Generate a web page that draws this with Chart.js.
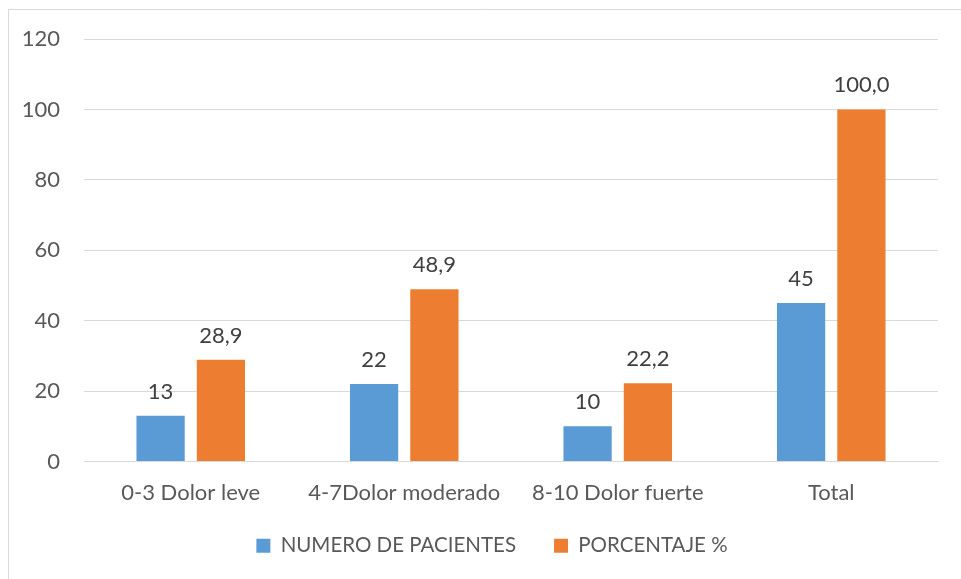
<!DOCTYPE html>
<html>
<head>
<meta charset="utf-8">
<script src="https://cdn.jsdelivr.net/npm/chart.js@4.4.1/dist/chart.umd.min.js"></script>
<style>
  html, body { margin: 0; padding: 0; background: #fff; }
  #wrap { position: relative; width: 961px; height: 579px; }
</style>
</head>
<body>
<div id="wrap"><canvas id="myChart" width="961" height="579"></canvas></div>
<script>
const categories = ["0-3 Dolor leve", "4-7Dolor moderado", "8-10 Dolor fuerte", "Total"];
const pacientes = [13, 22, 10, 45];
const porcentaje = [28.9, 48.9, 22.2, 100.0];
const yTicks = [0, 20, 40, 60, 80, 100, 120];

const FONT = "Lato, 'Liberation Sans', sans-serif";
const TEXT = "#595959";

// frame line on the top and left edges, like the exported chart box
const frame = {
  id: "frame",
  beforeDraw(chart) {
    const ctx = chart.ctx;
    ctx.save();
    ctx.strokeStyle = "#d9d9d9";
    ctx.lineWidth = 1;
    ctx.beginPath();
    ctx.moveTo(8.5, 579);
    ctx.lineTo(8.5, 9.5);
    ctx.lineTo(961, 9.5);
    ctx.stroke();
    ctx.restore();
  }
};

// nudge the legend a bit up and to the right after layout
const legendShift = {
  id: "legendShift",
  afterLayout(chart) {
    const lg = chart.legend;
    if (!lg) return;
    const dx = 23, dy = -9;
    lg.left += dx; lg.right += dx;
    lg.top += dy; lg.bottom += dy;
  }
};

// value labels above each bar
const valueLabels = {
  id: "valueLabels",
  afterDatasetsDraw(chart) {
    const ctx = chart.ctx;
    ctx.save();
    ctx.font = "22px " + FONT;
    ctx.fillStyle = "#404040";
    ctx.textAlign = "center";
    ctx.textBaseline = "alphabetic";
    chart.data.datasets.forEach((ds, i) => {
      chart.getDatasetMeta(i).data.forEach((bar, j) => {
        const v = ds.data[j];
        const txt = i === 1 ? v.toFixed(1).replace(".", ",") : String(v);
        ctx.fillText(txt, bar.x, bar.y - 17);
      });
    });
    ctx.restore();
  }
};

new Chart(document.getElementById("myChart"), {
  type: "bar",
  data: {
    labels: categories,
    datasets: [
      {
        label: "NUMERO DE PACIENTES",
        data: pacientes,
        backgroundColor: "#5b9bd5",
      },
      {
        label: "PORCENTAJE %",
        data: porcentaje,
        backgroundColor: "#ed7d31",
      },
    ],
  },
  options: {
    responsive: false,
    animation: false,
    layout: { padding: { top: 39, right: 23, bottom: 4, left: 0 } },
    datasets: {
      bar: { categoryPercentage: 0.565, barPercentage: 0.8 }
    },
    plugins: {
      tooltip: { enabled: false },
      legend: {
        position: "bottom",
        labels: {
          boxWidth: 14,
          boxHeight: 14,
          padding: 38,
          color: TEXT,
          font: { family: FONT, size: 20.5 },
        },
      },
    },
    scales: {
      x: {
        grid: { display: false, drawTicks: false },
        border: { display: true, color: "#d9d9d9" },
        ticks: { color: TEXT, padding: 18, font: { family: FONT, size: 22 } },
        afterFit(scale) { scale.height = 45; },
      },
      y: {
        min: 0,
        max: 120,
        afterBuildTicks(scale) { scale.ticks = yTicks.map(v => ({ value: v })); },
        grid: { color: "#d9d9d9", drawTicks: false },
        border: { display: false },
        ticks: { color: TEXT, padding: 24, font: { family: FONT, size: 22 } },
        afterFit(scale) { scale.width = 84; },
      },
    },
  },
  plugins: [frame, legendShift, valueLabels],
});
</script>
</body>
</html>
